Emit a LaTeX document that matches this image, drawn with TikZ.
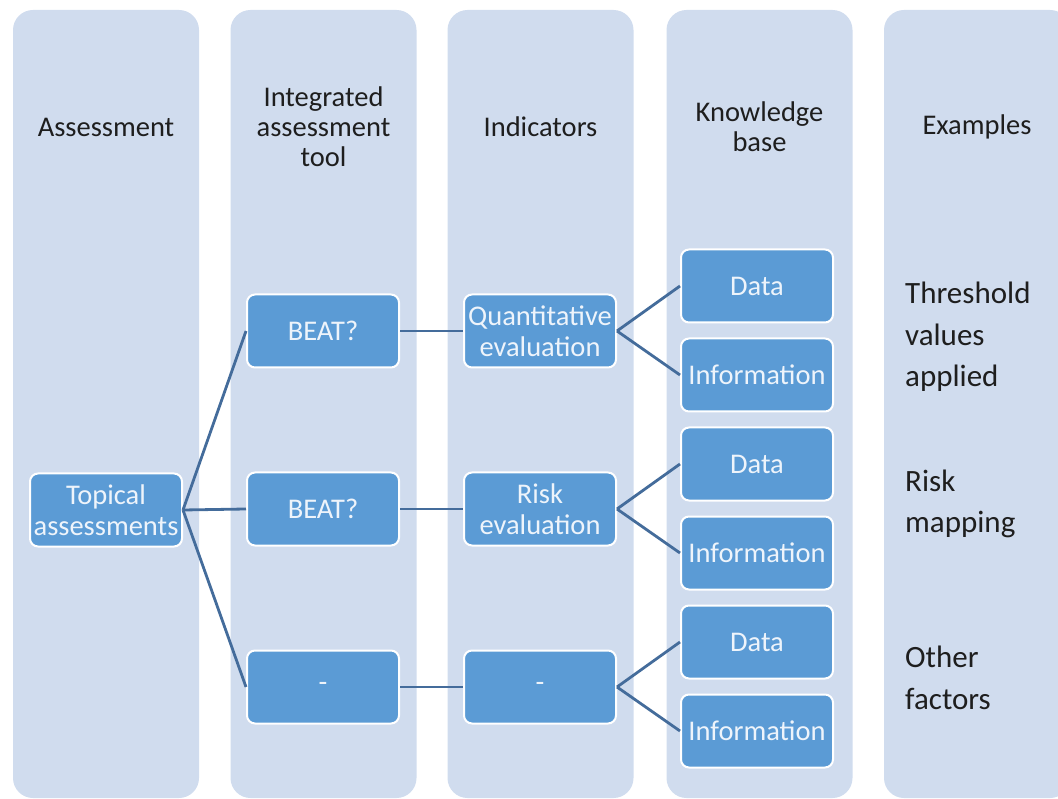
\documentclass[tikz,border=0pt]{standalone}
\usepackage{fontspec}
\setmainfont{Carlito}
\definecolor{colfill}{RGB}{208,220,238}
\definecolor{boxfill}{RGB}{91,155,213}
\definecolor{conncol}{RGB}{68,108,155}
\definecolor{boxtext}{RGB}{238,244,251}
\definecolor{headtext}{RGB}{30,30,30}
\tikzset{
  colbox/.style={rectangle, rounded corners=20pt, fill=colfill, draw=none, minimum width=186pt, minimum height=788pt, inner sep=0pt},
  itembox/.style={rectangle, rounded corners=8pt, fill=boxfill, draw=white, line width=2pt, minimum width=152pt, minimum height=73pt, inner sep=1pt, align=center, text=boxtext, font=\fontsize{28.5}{31}\selectfont},
  headtxt/.style={align=center, text=headtext, font=\fontsize{28.5}{30}\selectfont, inner sep=0pt},
  extxt/.style={align=left, text=headtext, font=\fontsize{31}{41.5}\selectfont, inner sep=0pt, anchor=west},
  conn/.style={draw=conncol, line width=2.8pt}
}
\begin{document}
\begin{tikzpicture}[x=1pt,y=-1pt]
\useasboundingbox (0,0) rectangle (1058,799);
\begin{scope}
\clip (0,0) rectangle (1058,799);
% columns
\node[colbox] (c1) at (106,404) {};
\node[colbox] (c2) at (323.5,404) {};
\node[colbox] (c3) at (540.5,404) {};
\node[colbox] (c4) at (759.5,404) {};
\node[colbox] (c5) at (977,404) {};
\end{scope}
% headers
\node[headtxt] (h1) at (106,127) {Assessment};
\node[headtxt] (h2) at (323.5,127) {Integrated\\assessment\\tool};
\node[headtxt] (h3) at (540.5,127) {Indicators};
\node[headtxt] (h4) at (759.5,127) {Knowledge\\base};
\node[headtxt] (h5) at (977,127) {Examples};
% items
\node[itembox] (top) at (106,510) {Topical\\assessments};
\node[itembox] (beat1) at (323,331) {BEAT?};
\node[itembox] (beat2) at (323,509) {BEAT?};
\node[itembox] (dash1) at (323,687) {-};
\node[itembox] (quant) at (540,331) {Quantitative\\evaluation};
\node[itembox] (risk) at (540,509) {Risk\\evaluation};
\node[itembox] (dash2) at (540,687) {-};
\node[itembox] (d1) at (757,286) {Data};
\node[itembox] (i1) at (757,375) {Information};
\node[itembox] (d2) at (757,464) {Data};
\node[itembox] (i2) at (757,553) {Information};
\node[itembox] (d3) at (757,642) {Data};
\node[itembox] (i3) at (757,731) {Information};
% examples
\node[extxt] (e1) at (905,337) {Threshold\\values\\applied};
\node[extxt] (e2) at (905,504) {Risk\\mapping};
\node[extxt] (e3) at (905,678) {Other\\factors};
% connectors
\draw[conn] (top.east) -- (beat1.west);
\draw[conn] (top.east) -- (beat2.west);
\draw[conn] (top.east) -- (dash1.west);
\draw[conn] (beat1.east) -- (quant.west);
\draw[conn] (beat2.east) -- (risk.west);
\draw[conn] (dash1.east) -- (dash2.west);
\draw[conn] (quant.east) -- (d1.west);
\draw[conn] (quant.east) -- (i1.west);
\draw[conn] (risk.east) -- (d2.west);
\draw[conn] (risk.east) -- (i2.west);
\draw[conn] (dash2.east) -- (d3.west);
\draw[conn] (dash2.east) -- (i3.west);
\end{tikzpicture}
\end{document}
